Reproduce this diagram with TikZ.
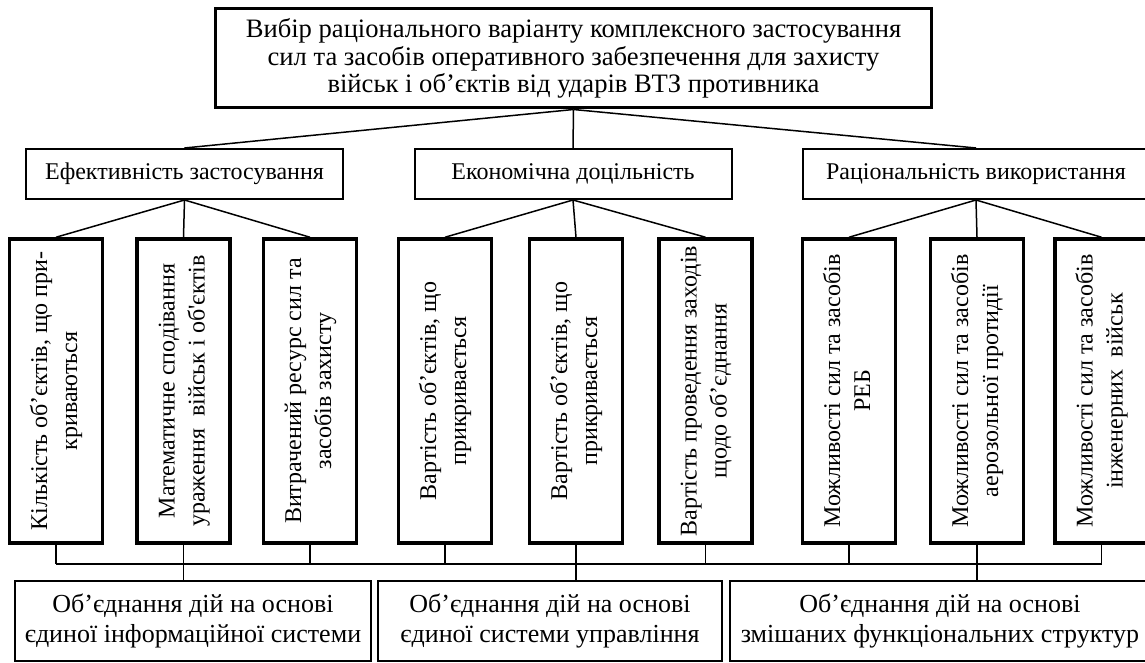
\documentclass[tikz,border=0pt]{standalone}
\usepackage{fontspec}
\setmainfont{Liberation Serif}
\usepackage{graphicx}
\newcommand{\vlines}[2]{\rotatebox{90}{\begin{tabular}{@{}c@{}}#1\\#2\end{tabular}}}
\begin{document}
\begin{tikzpicture}[x=0.5pt,y=-0.5pt,line width=0.75pt,
    font=\fontsize{12}{15}\selectfont,
    goalbox/.style={draw,line width=1.5pt,minimum width=358pt,minimum height=49.5pt,inner sep=0pt,align=center,
      font=\fontsize{13.3}{13.8}\selectfont},
    groupbox/.style={draw,line width=1pt,minimum width=158.5pt,minimum height=25pt,inner sep=0pt},
    itembox/.style={draw,line width=1.75pt,minimum width=46.5pt,minimum height=152pt,inner sep=0pt},
    joinbox/.style={draw,line width=1pt,minimum height=40pt,inner sep=0pt,align=center,
      font=\fontsize{13}{15}\selectfont}]
    \useasboundingbox (0,0) rectangle (1145,663);
    \clip (0,0) rectangle (1145,663);
    \node[goalbox] (goal) at (573.5,58.5) {Вибір раціонального варіанту комплексного застосування\\
      сил та засобів оперативного забезпечення для захисту\\військ і об’єктів від ударів ВТЗ противника};
    \node[groupbox] (eff) at (184.5,174) {Ефективність застосування};
    \node[groupbox] (econ) at (573,174) {Економічна доцільність};
    \node[groupbox,minimum width=173pt] (rat) at (976,174) {Раціональність використання};
    \node[itembox] (v1) at (56,391) {\vlines{Кількість об’єктів, що при-}{криваються}};
    \node[itembox] (v2) at (183.5,391) {\vlines{Математичне сподівання}{ураження\ \ військ і об\textquotesingle єктів}};
    \node[itembox] (v3) at (310,391) {\vlines{Витрачений ресурс сил та}{засобів захисту}};
    \node[itembox] (v4) at (445,391) {\vlines{Вартість об’єктів, що}{прикривається}};
    \node[itembox] (v5) at (576,391) {\vlines{Вартість об’єктів, що}{прикривається}};
    \node[itembox] (v6) at (705.5,391) {\vlines{Вартість проведення заходів}{щодо об’єднання}};
    \node[itembox] (v7) at (849,391) {\vlines{Можливості сил та засобів}{РЕБ}};
    \node[itembox] (v8) at (977,391) {\vlines{Можливості сил та засобів}{аерозольної протидії}};
    \node[itembox] (v9) at (1101.5,391) {\vlines{Можливості сил та засобів}{інженерних\ \ військ}};
    \node[joinbox,minimum width=178pt] (info) at (193,621) {Об’єднання дій на основі\\єдиної інформаційної системи};
    \node[joinbox,minimum width=172pt] (ctrl) at (550,621) {Об’єднання дій на основі\\єдиної системи управління};
    \node[joinbox,minimum width=210pt] (mix) at (940,621) {Об’єднання дій на основі\\змішаних функціональних структур};
    \draw (goal.south) -- (eff.north);
    \draw (goal.south) -- (econ.north);
    \draw (goal.south) -- (rat.north);
    \foreach \g/\i in {eff/v1,eff/v2,eff/v3,econ/v4,econ/v5,econ/v6,rat/v7,rat/v8,rat/v9}
      \draw (\g.south) -- (\i.north);
    \foreach \i in {1,...,9}
      \draw (v\i.south) -- ++(0,19) coordinate (bus\i);
    \draw (bus1) -- (bus9);
    \draw (v2.south) -- (v2.south |- info.north);
    \draw (v5.south) -- (v5.south |- ctrl.north);
    \draw (v8.south) -- (v8.south |- mix.north);
  \end{tikzpicture}
\end{document}
